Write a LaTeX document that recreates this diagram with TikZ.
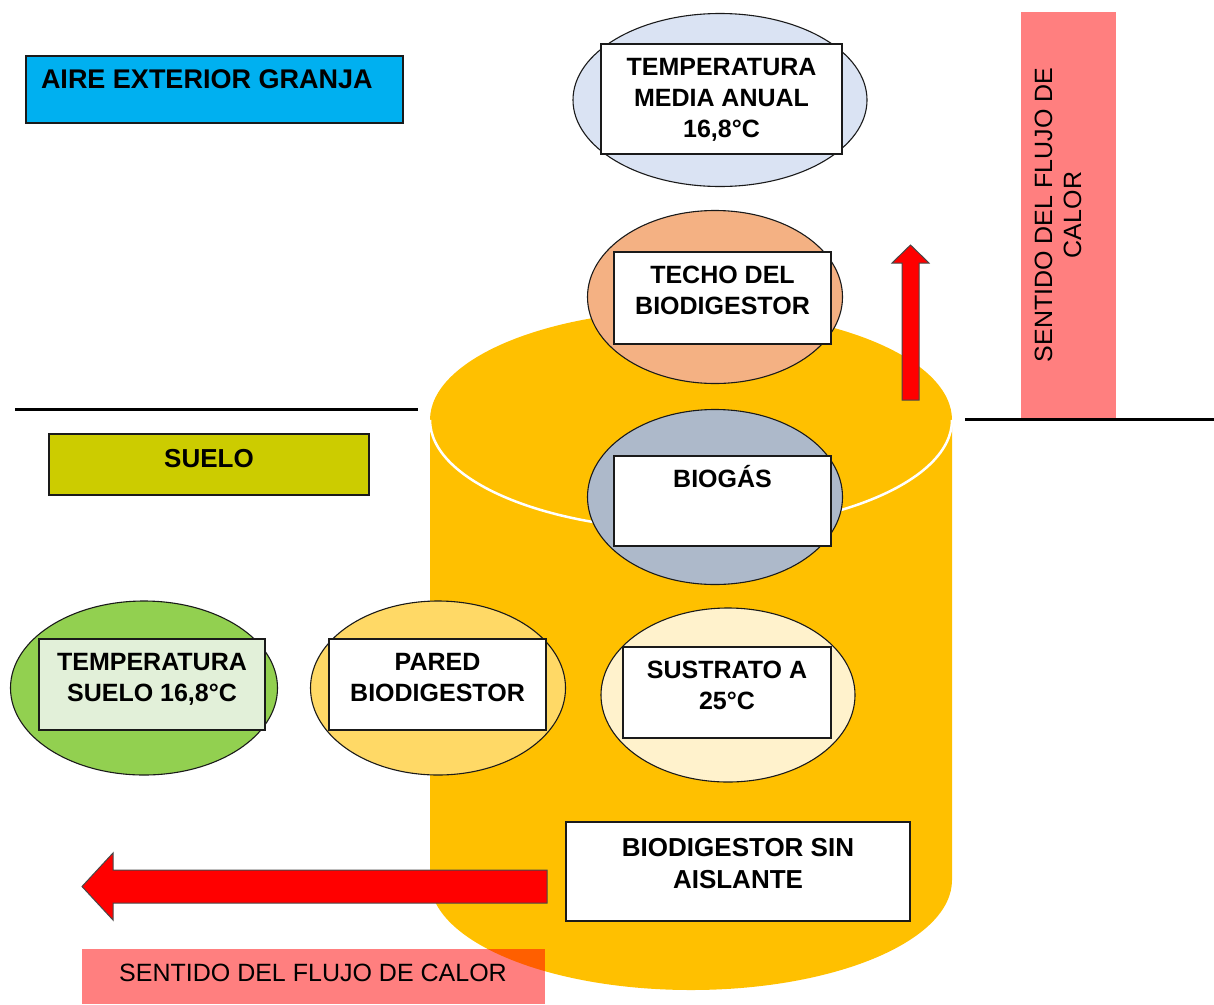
\documentclass[tikz,border=0pt]{standalone}
\usepackage{fontspec}
\setmainfont{Liberation Sans}
\usepackage{tikz}
\usetikzlibrary{shapes.geometric}
\definecolor{bdink}{HTML}{1A1A1A}
\definecolor{bdtank}{HTML}{FFC000}
\definecolor{bdair}{HTML}{00B0F0}
\definecolor{bdsoil}{HTML}{CCCC00}
\definecolor{bdmean}{HTML}{DAE3F3}
\definecolor{bdroof}{HTML}{F4B183}
\definecolor{bdgas}{HTML}{ADB9CA}
\definecolor{bdsub}{HTML}{FFF2CC}
\definecolor{bdwall}{HTML}{FFD966}
\definecolor{bdground}{HTML}{92D050}
\definecolor{bdgroundbg}{HTML}{E2F0D9}
% text box of fixed size, text hung from the top edge
\newcommand{\boxtxt}[3]{\parbox[c][#2][t]{#1}{\centering\rule{0pt}{31pt}#3}}
\tikzset{
  zone/.style    = {ellipse, draw=bdink, line width=1.1pt, inner sep=0pt},
  cellbox/.style = {rectangle, draw=bdink, line width=1.4pt, fill=white, inner sep=0pt,
                    font=\fontsize{25}{31}\selectfont\bfseries},
  tag/.style     = {rectangle, draw=bdink, line width=1.1pt, inner sep=0pt,
                    font=\fontsize{26}{31}\selectfont\bfseries},
  band/.style    = {fill=red, fill opacity=0.5, draw=none},
  bandtxt/.style = {font=\fontsize{25}{29}\selectfont, align=center, inner sep=0pt},
  heat/.style    = {fill=red, draw=bdink!80, line width=1pt, line join=miter},
  ground/.style  = {draw=black, line width=3pt},
}
\begin{document}
\begin{tikzpicture}[x=1pt, y=-1pt]
\useasboundingbox (0,0) rectangle (1214,1004);

% tank
\fill[bdtank] (430,420) -- (430,880) arc[start angle=180, end angle=360, x radius=261pt, y radius=110pt]
  -- (952,420) arc[start angle=0, end angle=180, x radius=261pt, y radius=110pt] -- cycle;
\draw[white, line width=2.5pt] (430,420) arc[start angle=180, end angle=360, x radius=261pt, y radius=110pt];

% ground level
\draw[ground] (15,409) -- (418,409);
\draw[ground] (965,419) -- (1214,419);

\node[tag, fill=bdair, font=\fontsize{27}{31}\selectfont\bfseries] (air) at (214.5,89.5)
  {\parbox[c][67pt][t]{377pt}{\hspace*{15pt}\rule{0pt}{32pt}AIRE EXTERIOR GRANJA}};
\node[tag, fill=bdsoil] (soil) at (209,464.5)
  {\parbox[c][61pt][t]{320pt}{\centering\rule{0pt}{33pt}SUELO}};

\node[zone, fill=bdmean, minimum width=294pt, minimum height=173pt] (mz) at (720,100) {};
\node[zone, fill=bdroof, minimum width=255pt, minimum height=173pt] (rz) at (715,297) {};
\node[zone, fill=bdgas, minimum width=255pt, minimum height=175pt] (gz) at (715,497) {};
\node[zone, fill=bdsub, minimum width=254pt, minimum height=174pt] (sz) at (728,695) {};
\node[zone, fill=bdwall, minimum width=255pt, minimum height=174pt] (wz) at (438,688) {};
\node[zone, fill=bdground, minimum width=267pt, minimum height=174pt] (tz) at (144,688) {};

\node[cellbox] (m) at (721.5,99) {\boxtxt{241pt}{110pt}{TEMPERATURA\\MEDIA ANUAL\\16,8°C}};
\node[cellbox] (r) at (722.5,298) {\boxtxt{217pt}{92pt}{TECHO DEL\\BIODIGESTOR}};
\node[cellbox] (g) at (722.5,501) {\boxtxt{217pt}{90pt}{BIOGÁS}};
\node[cellbox] (s) at (727,692.5) {\boxtxt{208pt}{91pt}{SUSTRATO A\\25°C}};
\node[cellbox] (w) at (437.5,684.5) {\boxtxt{217pt}{91pt}{PARED\\BIODIGESTOR}};
\node[cellbox, fill=bdgroundbg] (t) at (152,684.5) {\boxtxt{226pt}{91pt}{TEMPERATURA\\SUELO 16,8°C}};
\node[cellbox, font=\fontsize{26}{32}\selectfont\bfseries] (bd) at (738,871.5)
  {\parbox[c][99pt][t]{344pt}{\centering\rule{0pt}{34pt}BIODIGESTOR SIN\\AISLANTE}};

% heat flow
\draw[heat] (547,870) -- (113,870) -- (113,853) -- (82,886.5) -- (113,920) -- (113,903) -- (547,903) -- cycle;
\draw[heat] (902,400) -- (902,263) -- (892,263) -- (910.5,245) -- (929,263) -- (919,263) -- (919,400) -- cycle;

\fill[band] (1021,12) rectangle (1116,418);
\node[bandtxt, rotate=90] (vflow) at (1058,215) {SENTIDO DEL FLUJO DE\\CALOR};
\fill[band] (82,949) rectangle (545,1004);
\node[bandtxt, anchor=base] (hflow) at (313,981) {SENTIDO DEL FLUJO DE CALOR};
\end{tikzpicture}
\end{document}
